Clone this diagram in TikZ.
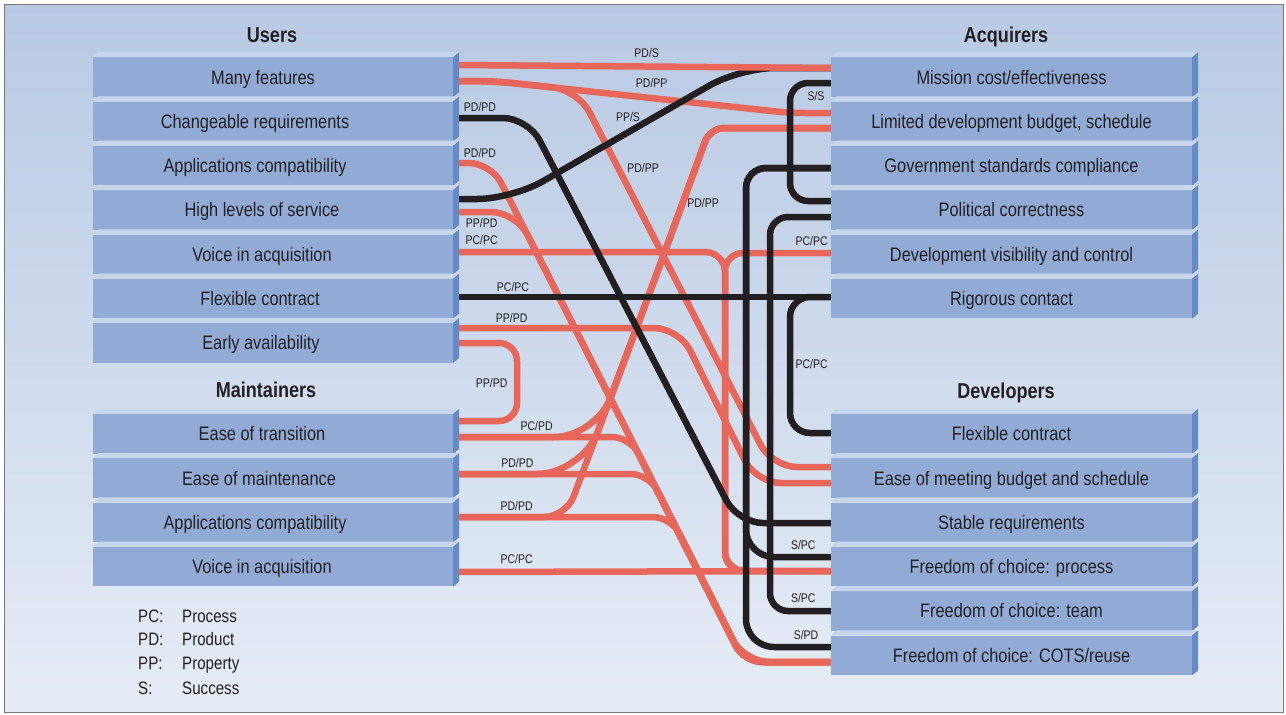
\documentclass[tikz,border=0pt]{standalone}
\usepackage{fontspec}
\setmainfont{Liberation Sans}[FakeStretch=0.84]
\definecolor{bgtop}{RGB}{184,201,227}
\definecolor{bgbot}{RGB}{230,237,246}
\definecolor{facec}{RGB}{145,171,214}
\definecolor{sidec}{RGB}{101,139,199}
\definecolor{topc}{RGB}{200,214,237}
\definecolor{linered}{RGB}{233,102,90}
\definecolor{lineblk}{RGB}{35,31,32}
\definecolor{textc}{RGB}{35,31,32}
\definecolor{framec}{RGB}{120,120,125}
\newcommand\boxfont{\fontsize{19.5}{22}\selectfont}
\newcommand\ttlfont{\fontsize{21.5}{24}\selectfont\bfseries}
\newcommand\lblfont{\fontsize{12.5}{14}\selectfont}
\newcommand\legfont{\fontsize{18}{20}\selectfont}
\newcommand\sh[1]{\hspace*{-#1pt}}
\tikzset{
  redl/.style={draw=linered, line width=6.5pt},
  blkl/.style={draw=lineblk, line width=6.5pt},
  lbox/.style={fill=facec, minimum width=360pt, minimum height=39.5pt, inner sep=0pt,
    font=\boxfont, text=textc, text height=14pt, text depth=0pt},
  rbox/.style={lbox, minimum width=361pt},
  ttl/.style={font=\ttlfont, text=textc, text height=15.5pt, text depth=0pt, inner sep=0pt},
  lbl/.style={font=\lblfont, text=textc, text height=9pt, text depth=0pt, inner sep=0pt},
  leg/.style={font=\legfont, text=textc, inner sep=0pt, anchor=base west},
}
\begin{document}
\begin{tikzpicture}[x=1pt,y=-1pt]
\useasboundingbox (0,0) rectangle (1286,715);
\fill[white] (0,0) rectangle (1286,715);
\shade[top color=bgtop,bottom color=bgbot] (4,4) rectangle (1283,712);
\draw[framec, line width=1pt] (4,4) rectangle (1283,712);

% attachment points, left side
\coordinate (u1a) at (457,65);  \coordinate (u1b) at (457,81);
\coordinate (u2a) at (457,118); \coordinate (u3a) at (457,163);
\coordinate (u4a) at (457,199); \coordinate (u4b) at (457,212);
\coordinate (u5a) at (457,252); \coordinate (u6a) at (457,297);
\coordinate (u7a) at (457,328); \coordinate (u7b) at (457,343);
\coordinate (m1a) at (457,421); \coordinate (m1b) at (457,437);
\coordinate (m2a) at (457,474); \coordinate (m3a) at (457,517);
\coordinate (m4a) at (457,572);
% attachment points, right side
\coordinate (a1a) at (833,68);  \coordinate (a1b) at (833,83);
\coordinate (a2a) at (833,113); \coordinate (a2b) at (833,128);
\coordinate (a3a) at (833,168); \coordinate (a4a) at (833,201);
\coordinate (a4b) at (833,217); \coordinate (a5a) at (833,253);
\coordinate (a6a) at (833,297); \coordinate (d1a) at (833,433);
\coordinate (d2a) at (833,467); \coordinate (d2b) at (833,483);
\coordinate (d3a) at (833,523); \coordinate (d4a) at (833,557);
\coordinate (d4b) at (833,571); \coordinate (d5a) at (833,611);
\coordinate (d6a) at (833,647); \coordinate (d6b) at (833,662);

% red connectors
\draw[redl, rounded corners=15] (u1b) -- (493,81) -- (790,113) -- (a2a);
\draw[redl, rounded corners=25] (u1b) -- (493,81) -- (578,90) -- (772,467) -- (d2a);
\draw[redl, rounded corners=25] (u7a) -- (679,328) -- (756,483) -- (d2b);
\draw[redl, rounded corners=22] (u3a) -- (491,163) -- (744,662) -- (d6b);
\draw[redl, rounded corners=25] (u4b) -- (516,212) -- (744,662) -- (d6b);
\draw[redl, rounded corners=20] (u5a) -- (725,252) -- (725,571) -- (d4b);
\draw[redl, rounded corners=18] (a5a) -- (725,253) -- (725,571) -- (d4b);
\draw[redl] (m4a) -- (d4b);
\draw[redl, rounded corners=18] (u7b) -- (517,343) -- (517,421) -- (m1a);
\draw[redl] (m1b) [rounded corners=42] -- (596,437) -- (660,265) [rounded corners=14] -- (710,128) -- (a2b);
\draw[redl] (m2a) [rounded corners=45] -- (582,474) -- (660,265) [rounded corners=14] -- (710,128) -- (a2b);
\draw[redl] (m3a) [rounded corners=22] -- (566,517) -- (660,265) [rounded corners=14] -- (710,128) -- (a2b);
\draw[redl, rounded corners=18] (m1b) -- (630,437) -- (744,662) -- (d6b);
\draw[redl, rounded corners=18] (m2a) -- (649,474) -- (744,662) -- (d6b);
\draw[redl, rounded corners=18] (m3a) -- (671,517) -- (744,662) -- (d6b);

% black connectors
\draw[blkl, rounded corners=25] (u2a) -- (528,118) -- (738,523) -- (d3a);
\draw[blkl, rounded corners=35] (u4a) -- (512,199) -- (740,68) -- (a1a);
\draw[blkl] (u6a) -- (a6a);
\draw[blkl, rounded corners=20] (a6a) -- (790,297) -- (790,433) -- (d1a);
\draw[blkl, rounded corners=18] (a1b) -- (790,83) -- (790,201) -- (a4a);
\draw[blkl] (a3a) [rounded corners=20] -- (746,168) -- (746,400) [rounded corners=28] -- (746,557) -- (d4a);
\draw[blkl] (a3a) [rounded corners=20] -- (746,168) -- (746,400) [rounded corners=28] -- (746,647) -- (d6a);
\draw[blkl, rounded corners=18] (a4b) -- (770,217) -- (770,611) -- (d5a);
% top red over black
\draw[redl] (u1a) -- (a1a);

% connector labels
\node[lbl] (l1) at (646.7,52.7) {PD/S};
\node[lbl] (l2) at (651.7,83.3) {PD/PP};
\node[lbl] (l3) at (480,106.7) {PD/PD};
\node[lbl] (l4) at (628,117) {PP/S};
\node[lbl] (l5) at (480,152.7) {PD/PD};
\node[lbl] (l6) at (643,168) {PD/PP};
\node[lbl] (l7) at (703,203) {PD/PP};
\node[lbl] (l8) at (816,96) {S/S};
\node[lbl] (l9) at (481.7,223.3) {PP/PD};
\node[lbl] (l10) at (481.7,240) {PC/PC};
\node[lbl] (l11) at (513,286.7) {PC/PC};
\node[lbl] (l12) at (511.7,318) {PP/PD};
\node[lbl] (l13) at (491.7,383) {PP/PD};
\node[lbl] (l14) at (811.7,240.7) {PC/PC};
\node[lbl] (l15) at (811.7,364) {PC/PC};
\node[lbl] (l16) at (536.7,425.7) {PC/PD};
\node[lbl] (l17) at (517.3,462.7) {PD/PD};
\node[lbl] (l18) at (516.7,506) {PD/PD};
\node[lbl] (l19) at (516.7,559.3) {PC/PC};
\node[lbl] (l20) at (803.3,545.3) {S/PC};
\node[lbl] (l21) at (803.3,598.3) {S/PC};
\node[lbl] (l22) at (806,635.3) {S/PD};

% titles
\node[ttl] (tu) at (272,35) {Users};
\node[ttl] (ta) at (1006,35) {Acquirers};
\node[ttl] (tm) at (266,390) {Maintainers};
\node[ttl] (td) at (1006,391) {Developers};

% boxes
\node[lbox] (u1) at (273,77.05) {\sh{20}Many features};
\node[lbox] (u2) at (273,121.35) {\sh{36}Changeable requirements};
\node[lbox] (u3) at (273,165.65) {\sh{36}Applications compatibility};
\node[lbox] (u4) at (273,209.95) {\sh{22}High levels of service};
\node[lbox] (u5) at (273,254.25) {\sh{22}Voice in acquisition};
\node[lbox] (u6) at (273,298.55) {\sh{26}Flexible contract};
\node[lbox] (u7) at (273,342.85) {\sh{24}Early availability};
\node[lbox] (m1) at (273,433.75) {\sh{22}Ease of transition};
\node[lbox] (m2) at (273,478.05) {\sh{28}Ease of maintenance};
\node[lbox] (m3) at (273,522.35) {\sh{36}Applications compatibility};
\node[lbox] (m4) at (273,566.65) {\sh{22}Voice in acquisition};
\node[rbox] (a1) at (1011.5,77.05) {Mission cost/effectiveness};
\node[rbox] (a2) at (1011.5,121.35) {Limited development budget, schedule};
\node[rbox] (a3) at (1011.5,165.65) {Government standards compliance};
\node[rbox] (a4) at (1011.5,209.95) {Political correctness};
\node[rbox] (a5) at (1011.5,254.25) {Development visibility and control};
\node[rbox] (a6) at (1011.5,298.55) {Rigorous contact};
\node[rbox] (d1) at (1011.5,433.75) {Flexible contract};
\node[rbox] (d2) at (1011.5,478.05) {Ease of meeting budget and schedule};
\node[rbox] (d3) at (1011.5,522.35) {Stable requirements};
\node[rbox] (d4) at (1011.5,566.65) {Freedom of choice: process};
\node[rbox] (d5) at (1011.5,610.95) {Freedom of choice: team};
\node[rbox] (d6) at (1011.5,655.25) {Freedom of choice: COTS/reuse};
\foreach \n in {u1,u2,u3,u4,u5,u6,u7,m1,m2,m3,m4,a1,a2,a3,a4,a5,a6,d1,d2,d3,d4,d5,d6}{
  \fill[topc] (\n.north west) -- ([xshift=6pt,yshift=5pt]\n.north west)
    -- ([xshift=6pt,yshift=5pt]\n.north east) -- (\n.north east) -- cycle;
  \fill[sidec] (\n.north east) -- ([xshift=6pt,yshift=5pt]\n.north east)
    -- ([xshift=6pt,yshift=5pt]\n.south east) -- (\n.south east) -- cycle;
}

% legend
\node[leg] (k1) at (138,622) {PC:};  \node[leg] (k1t) at (182,622) {Process};
\node[leg] (k2) at (138,645.5) {PD:};  \node[leg] (k2t) at (182,645.5) {Product};
\node[leg] (k3) at (138,669.5) {PP:};  \node[leg] (k3t) at (182,669.5) {Property};
\node[leg] (k4) at (138,694) {S:};   \node[leg] (k4t) at (182,694) {Success};
\end{tikzpicture}
\end{document}
